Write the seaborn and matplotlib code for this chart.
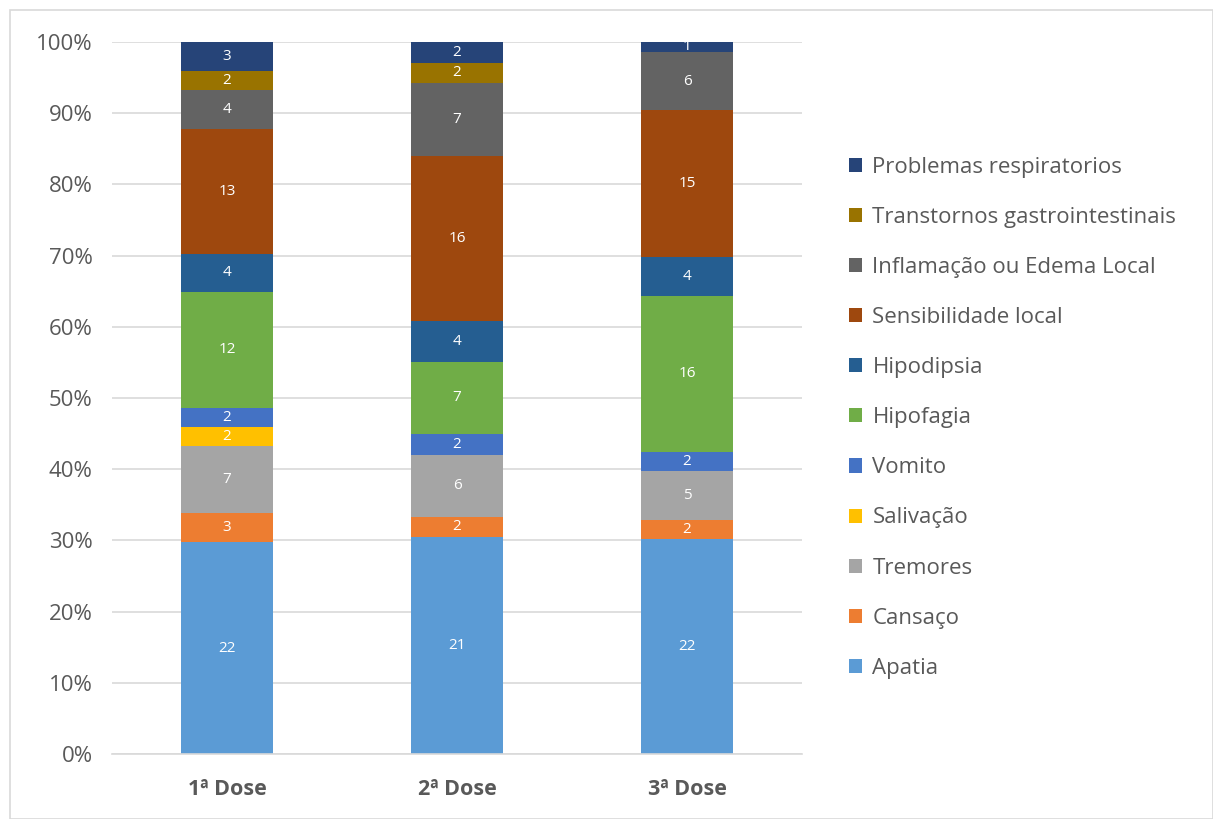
import numpy as np
import pandas as pd
import seaborn as sns
import matplotlib.pyplot as plt
from matplotlib.patches import Rectangle
from matplotlib.ticker import PercentFormatter

# data (counts per dose)
doses = ["1ª Dose", "2ª Dose", "3ª Dose"]
symptoms = ["Apatia", "Cansaço", "Tremores", "Salivação", "Vomito", "Hipofagia",
            "Hipodipsia", "Sensibilidade local", "Inflamação ou Edema Local",
            "Transtornos gastrointestinais", "Problemas respiratorios"]
apatia = [22, 21, 22]
cansaco = [3, 2, 2]
tremores = [7, 6, 5]
salivacao = [2, 0, 0]
vomito = [2, 2, 2]
hipofagia = [12, 7, 16]
hipodipsia = [4, 4, 4]
sensibilidade = [13, 16, 15]
inflamacao = [4, 7, 6]
transtornos = [2, 2, 0]
respiratorios = [3, 2, 1]

colors = ["#5B9BD5", "#ED7D31", "#A5A5A5", "#FFC000", "#4472C4", "#70AD47",
          "#255E91", "#9E480E", "#636363", "#997300", "#264478"]

counts = pd.DataFrame(
    [apatia, cansaco, tremores, salivacao, vomito, hipofagia, hipodipsia,
     sensibilidade, inflamacao, transtornos, respiratorios],
    index=symptoms, columns=doses)
pct = counts / counts.sum(axis=0) * 100

sns.set_style("white")
plt.rcParams['font.family'] = ['Open Sans', 'DejaVu Sans']

fig = plt.figure(figsize=(12.13, 8.19), dpi=100)
ax = fig.add_axes([0.0923, 0.0794, 0.5690, 0.8693])

bottom = np.zeros(len(doses))
for sym, col in zip(symptoms, colors):
    vals = pct.loc[sym].values
    sns.barplot(x=doses, y=vals, bottom=bottom, color=col, width=0.4,
                saturation=1, label=sym, linewidth=0, ax=ax)
    for i, v in enumerate(vals):
        if counts.loc[sym].iloc[i] > 0:
            ax.text(i, bottom[i] + v / 2, str(counts.loc[sym].iloc[i]),
                    ha='center', va='center', color='white', fontsize=11)
    bottom += vals

ax.set_ylim(0, 100)
ax.set_xlim(-0.5, 2.5)
ax.set_yticks(range(0, 101, 10))
ax.yaxis.set_major_formatter(PercentFormatter(decimals=0))
ax.grid(axis='y', color='#D9D9D9', linewidth=1.2)
ax.set_axisbelow(True)
for s in ['top', 'right', 'left']:
    ax.spines[s].set_visible(False)
ax.spines['bottom'].set_color('#D9D9D9')
ax.spines['bottom'].set_linewidth(1.2)
ax.tick_params(axis='y', labelsize=16, labelcolor='#595959', length=0, pad=14)
ax.tick_params(axis='x', labelsize=15.5, labelcolor='#595959', length=0, pad=18)
for lbl in ax.get_xticklabels():
    lbl.set_fontweight('bold')
ax.set_xlabel("")
ax.set_ylabel("")

handles, labels = ax.get_legend_handles_labels()
leg = ax.legend(handles[::-1], labels[::-1], loc='upper left',
                bbox_to_anchor=(1.068, 0.839), frameon=False, fontsize=16,
                handlelength=0.6, handleheight=0.6, handletextpad=0.45,
                labelspacing=1.31, borderaxespad=0, borderpad=0)
for t in leg.get_texts():
    t.set_color('#595959')

# thin border around the chart area
fig.patches.append(Rectangle((0.008, 0.0), 0.992, 0.988, transform=fig.transFigure,
                             fill=False, edgecolor='#D9D9D9', linewidth=1.2))

fig.savefig("out.png", dpi=100)
